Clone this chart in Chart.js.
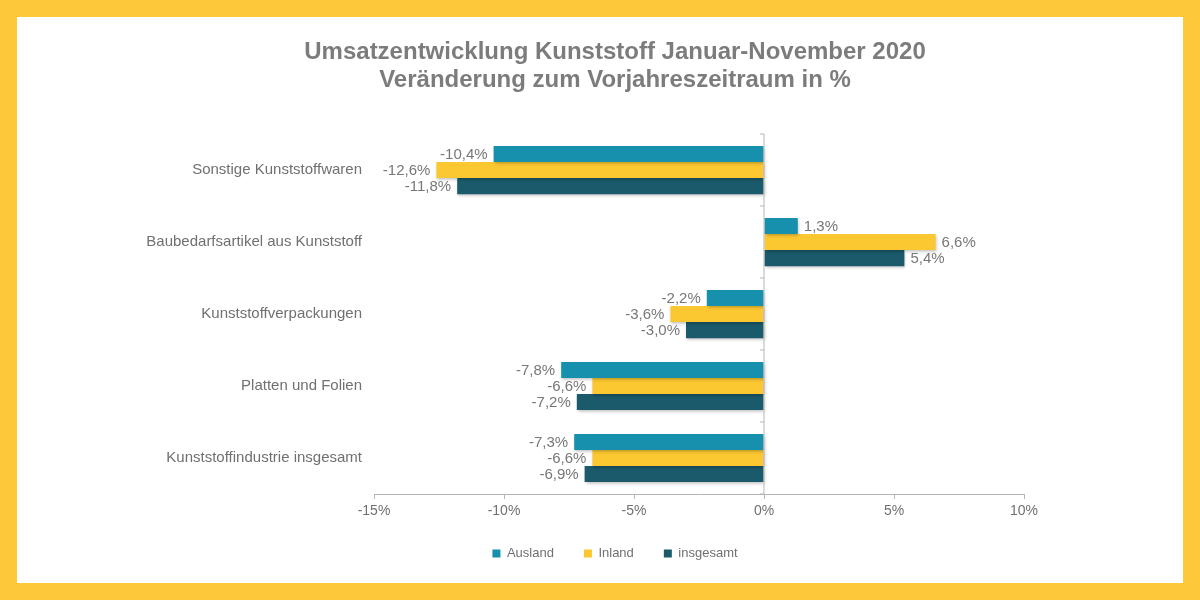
<!DOCTYPE html>
<html>
<head>
<meta charset="utf-8">
<script src="https://cdn.jsdelivr.net/npm/chart.js@4/dist/chart.umd.min.js"></script>
<style>
  html, body { margin: 0; padding: 0; background: #fdc93a; }
  #rahmen { position: absolute; left: 17px; top: 17px; width: 1166px; height: 566px; background: #fff; }
</style>
</head>
<body>
<div id="rahmen"><canvas id="grafico"></canvas></div>
<script>
// Werte in Prozent, Veränderung zum Vorjahreszeitraum
var kategorien = [
  "Sonstige Kunststoffwaren",
  "Baubedarfsartikel aus Kunststoff",
  "Kunststoffverpackungen",
  "Platten und Folien",
  "Kunststoffindustrie insgesamt"
];
var ausland   = [-10.4, 1.3, -2.2, -7.8, -7.3];
var inland    = [-12.6, 6.6, -3.6, -6.6, -6.6];
var insgesamt = [-11.8, 5.4, -3.0, -7.2, -6.9];
var achsenTicks = [-15, -10, -5, 0, 5, 10];

var schrift = "'Liberation Sans', Arial, sans-serif";
var grau = "#707070";

// leichter Schatten unter den Balken
var schatten = {
  id: "schatten",
  beforeDatasetsDraw: function (chart) {
    var ctx = chart.ctx;
    ctx.save();
    ctx.shadowColor = "rgba(0,0,0,0.25)";
    ctx.shadowBlur = 3;
    ctx.shadowOffsetX = 1;
    ctx.shadowOffsetY = 2;
  },
  afterDatasetsDraw: function (chart) {
    chart.ctx.restore();
  }
};

// senkrechte Linie bei 0 mit kleinen Strichen
var nulllinie = {
  id: "nulllinie",
  afterDatasetsDraw: function (chart) {
    var ctx = chart.ctx, x = chart.scales.x.getPixelForValue(0);
    var top = chart.chartArea.top, bottom = chart.chartArea.bottom;
    ctx.save();
    ctx.strokeStyle = "#b5b5b5";
    ctx.lineWidth = 1;
    ctx.beginPath();
    ctx.moveTo(x, top);
    ctx.lineTo(x, bottom);
    var n = kategorien.length;
    for (var i = 0; i <= n; i++) {
      var yy = top + (bottom - top) * i / n;
      ctx.moveTo(x - 4, yy);
      ctx.lineTo(x, yy);
    }
    ctx.stroke();
    ctx.restore();
  }
};

// Beschriftung der Balken
var werte = {
  id: "werte",
  afterDatasetsDraw: function (chart) {
    var ctx = chart.ctx;
    ctx.save();
    ctx.font = "15px " + schrift;
    ctx.fillStyle = "#777";
    ctx.textBaseline = "middle";
    chart.data.datasets.forEach(function (ds, d) {
      chart.getDatasetMeta(d).data.forEach(function (bar, i) {
        var v = ds.data[i];
        var txt = v.toFixed(1).replace(".", ",") + "%";
        if (v < 0) {
          ctx.textAlign = "right";
          ctx.fillText(txt, bar.x - 6, bar.y + 1);
        } else {
          ctx.textAlign = "left";
          ctx.fillText(txt, bar.x + 6, bar.y + 1);
        }
      });
    });
    ctx.restore();
  }
};

new Chart(document.getElementById("grafico").getContext("2d"), {
  type: "bar",
  data: {
    labels: kategorien,
    datasets: [
      { label: "Ausland", data: ausland, backgroundColor: "#1790ad" },
      { label: "Inland", data: inland, backgroundColor: "#fcc832" },
      { label: "insgesamt", data: insgesamt, backgroundColor: "#1b5a6b" }
    ]
  },
  options: {
    indexAxis: "y",
    responsive: true,
    maintainAspectRatio: false,
    animation: false,
    categoryPercentage: 0.67,
    barPercentage: 1,
    layout: { padding: { left: 30, right: 0, top: 0, bottom: 13 } },
    scales: {
      x: {
        min: -15,
        max: 10,
        afterBuildTicks: function (s) {
          s.ticks = achsenTicks.map(function (v) { return { value: v }; });
        },
        afterFit: function (s) {
          s.paddingRight = 159;
          s.height = 23;
        },
        grid: { drawOnChartArea: false, drawTicks: true, tickLength: 5, color: "#b5b5b5" },
        border: { color: "#b5b5b5" },
        ticks: {
          padding: 4,
          color: grau,
          font: { family: schrift, size: 14 },
          callback: function (v) { return v + "%"; }
        }
      },
      y: {
        afterFit: function (s) { s.width = 327; },
        grid: { display: false, drawTicks: false },
        border: { display: false },
        ticks: {
          padding: 12,
          color: grau,
          font: { family: schrift, size: 15 }
        }
      }
    },
    plugins: {
      title: {
        display: true,
        text: ["Umsatzentwicklung Kunststoff Januar-November 2020", "Veränderung zum Vorjahreszeitraum in %"],
        color: "#7c7c7c",
        font: { family: schrift, size: 24, weight: "bold", lineHeight: 1.167 },
        padding: { top: 21, bottom: 40 }
      },
      legend: {
        position: "bottom",
        labels: {
          boxWidth: 8,
          boxHeight: 8,
          padding: 30,
          color: grau,
          font: { family: schrift, size: 13 }
        }
      },
      tooltip: { enabled: false }
    }
  },
  plugins: [schatten, nulllinie, werte]
});
</script>
</body>
</html>
